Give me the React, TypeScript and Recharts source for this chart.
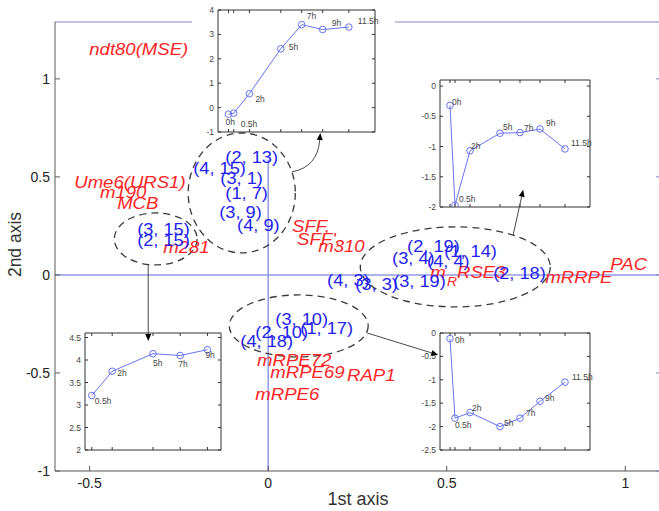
import React from 'react';
import {
  ComposedChart,
  LineChart,
  Line,
  Scatter,
  XAxis,
  YAxis,
  ReferenceLine,
  ReferenceArea,
  LabelList,
} from 'recharts';

const FONT = "'Liberation Sans', Arial, Helvetica, sans-serif";

// ---------- main biplot ----------
const mainXTicks = [-0.5, 0, 0.5, 1];
const mainYTicks = [-1, -0.5, 0, 0.5, 1];
const mainXDomain: [number, number] = [-0.597, 1.1];
const mainYDomain: [number, number] = [-1, 1.29];

const redLabels = [
  { x: -0.501, y: 1.148, label: 'ndt80(MSE)' },
  { x: -0.543, y: 0.474, label: 'Ume6(URS1)' },
  { x: -0.471, y: 0.423, label: 'm190' },
  { x: -0.423, y: 0.362, label: 'MCB' },
  { x: -0.294, y: 0.138, label: 'm281' },
  { x: 0.067, y: 0.245, label: 'SFF,' },
  { x: 0.081, y: 0.179, label: "SFF'," },
  { x: 0.14, y: 0.143, label: 'm310' },
  { x: 0.454, y: 0.015, label: 'm' },
  { x: 0.529, y: 0.015, label: 'RSE3' },
  { x: 0.776, y: -0.015, label: 'mRRPE' },
  { x: 0.958, y: 0.051, label: 'PAC' },
  { x: -0.031, y: -0.434, label: 'mRPE72' },
  { x: 0.006, y: -0.495, label: 'mRPE69' },
  { x: 0.221, y: -0.515, label: 'RAP1' },
  { x: -0.036, y: -0.612, label: 'mRPE6' },
];
const redSmallLabels = [{ x: 0.501, y: -0.036, label: 'R' }];

const blueLabels = [
  { x: -0.12, y: 0.597, label: '(2, 13)' },
  { x: -0.21, y: 0.541, label: '(4, 15)' },
  { x: -0.134, y: 0.49, label: '(3, 1)' },
  { x: -0.12, y: 0.413, label: '(1, 7)' },
  { x: -0.137, y: 0.316, label: '(3, 9)' },
  { x: -0.087, y: 0.25, label: '(4, 9)' },
  { x: -0.367, y: 0.23, label: '(3, 15)' },
  { x: -0.367, y: 0.173, label: '(2, 15)' },
  { x: 0.389, y: 0.143, label: '(2, 19)' },
  { x: 0.347, y: 0.082, label: '(3, 4)' },
  { x: 0.445, y: 0.066, label: '(4, 4)' },
  { x: 0.493, y: 0.117, label: '(1, 14)' },
  { x: 0.165, y: -0.031, label: '(4, 3)' },
  { x: 0.244, y: -0.051, label: '(3, 3)' },
  { x: 0.35, y: -0.036, label: '(3, 19)' },
  { x: 0.63, y: 0.005, label: '(2, 18)' },
  { x: 0.02, y: -0.23, label: '(3, 10)' },
  { x: -0.036, y: -0.296, label: '(2, 10)' },
  { x: 0.09, y: -0.276, label: '(1, 17)' },
  { x: -0.078, y: -0.342, label: '(4, 18)' },
];

// dashed cluster outlines (bounding boxes in data units)
const clusterBoxes = [
  { x1: -0.224, x2: 0.076, y1: 0.112, y2: 0.724 },
  { x1: -0.431, x2: -0.199, y1: 0.051, y2: 0.316 },
  { x1: 0.258, x2: 0.79, y1: -0.163, y2: 0.245 },
  { x1: -0.109, x2: 0.28, y1: -0.418, y2: -0.102 },
];

// arrows from clusters to inset plots
const straightArrows = [
  { from: { x: 0.686, y: 0.204 }, to: { x: 0.714, y: 0.434 } },
  { from: { x: -0.336, y: 0.051 }, to: { x: -0.336, y: -0.337 } },
  { from: { x: 0.277, y: -0.296 }, to: { x: 0.476, y: -0.408 } },
];
const curvedArrow = { x1: 0.067, x2: 0.146, y1: 0.526, y2: 0.724 };

// ---------- inset time courses ----------
const hoursFull = [0, 0.5, 2, 5, 7, 9, 11.5];
const namesFull = ['0h', '0.5h', '2h', '5h', '7h', '9h', '11.5h'];
const hoursShort = [0.5, 2, 5, 7, 9];
const namesShort = ['0.5h', '2h', '5h', '7h', '9h'];

const insetAValues = [-0.27, -0.23, 0.57, 2.41, 3.4, 3.2, 3.3];
const insetBValues = [-0.32, -1.97, -1.07, -0.78, -0.77, -0.71, -1.04];
const insetCValues = [3.21, 3.75, 4.14, 4.1, 4.23];
const insetDValues = [-0.12, -1.82, -1.7, -2.0, -1.82, -1.46, -1.05];

const insetAYTicks = [-1, 0, 1, 2, 3, 4];
const insetBYTicks = [-2, -1.5, -1, -0.5, 0];
const insetCYTicks = [2, 2.5, 3, 3.5, 4, 4.5];
const insetDYTicks = [-2.5, -2, -1.5, -1, -0.5, 0];

// point-label offsets (px) for each inset
const insetALabelOffsets = [[-3, 8], [7, 11], [6, 5], [8, -2], [5, -9], [9, -7], [9, -6]];
const insetBLabelOffsets = [[2, -3], [4, -6], [1, -5], [3, -6], [4, -5], [6, -6], [6, -6]];
const insetCLabelOffsets = [[3, 5], [5, 2], [0, 9], [-2, 8], [-2, 5]];
const insetDLabelOffsets = [[5, 1], [0, 7], [2, -5], [4, -4], [6, -5], [5, -3], [7, -5]];

const ZERO_LINE = '#8f98e6';
const INSET_LINE = '#6674f2';
const RED = '#ff2424';
const BLUE = '#2222f0';

const makeTextShape = (color: string, italic: boolean, size: number) => (p: any) => {
  const { cx, cy, payload } = p;
  if (cx == null || cy == null) return <g />;
  return (
    <text
      transform={`translate(${cx},${cy}) scale(1.16,1)`}
      x={0}
      y={0}
      dominantBaseline="central"
      fontFamily={FONT}
      fontStyle={italic ? 'italic' : 'normal'}
      fontSize={size}
      fill={color}
    >
      {payload.label}
    </text>
  );
};

const EllipseShape = (p: any) => {
  const { x, y, width, height } = p;
  return (
    <ellipse
      cx={x + width / 2}
      cy={y + height / 2}
      rx={Math.abs(width) / 2}
      ry={Math.abs(height) / 2}
      fill="none"
      stroke="#3a3a3a"
      strokeWidth={1.3}
      strokeDasharray="7 5"
    />
  );
};

const arrowHead = (ex: number, ey: number, ang: number) => {
  const L = 7;
  const W = 3;
  const bx = ex - L * Math.cos(ang);
  const by = ey - L * Math.sin(ang);
  const px = -Math.sin(ang) * W;
  const py = Math.cos(ang) * W;
  return { bx, by, pts: `${ex},${ey} ${bx + px},${by + py} ${bx - px},${by - py}` };
};

const ArrowShape = (p: any) => {
  const { x1, y1, x2, y2 } = p;
  if (x1 == null) return <g />;
  const ang = Math.atan2(y2 - y1, x2 - x1);
  const h = arrowHead(x2, y2, ang);
  return (
    <g>
      <line x1={x1} y1={y1} x2={h.bx} y2={h.by} stroke="#4a4a4a" strokeWidth={1} />
      <polygon points={h.pts} fill="#000" />
    </g>
  );
};

const CurvedArrowShape = (p: any) => {
  const { x, y, width, height } = p;
  const sx = x;
  const sy = y + height;
  const ex = x + width;
  const ey = y;
  const qx = x + width * 0.9;
  const qy = y + height * 0.88;
  const ang = Math.atan2(ey - qy, ex - qx);
  const h = arrowHead(ex, ey, ang);
  return (
    <g>
      <path d={`M${sx},${sy} Q${qx},${qy} ${h.bx},${h.by}`} fill="none" stroke="#4a4a4a" strokeWidth={1} />
      <polygon points={h.pts} fill="#000" />
    </g>
  );
};

const OpenDot = (p: any) => {
  const { cx, cy } = p;
  if (cx == null) return <g />;
  return <circle cx={cx} cy={cy} r={3.3} fill="none" stroke={INSET_LINE} strokeWidth={1} />;
};

type InsetProps = {
  left: number;
  top: number;
  width: number;
  height: number;
  margin: { top: number; right: number; bottom: number; left: number };
  yAxisWidth: number;
  hours: number[];
  values: number[];
  names: string[];
  offsets: number[][];
  xDomain: [number, number];
  yDomain: [number, number];
  yTicks: number[];
};

function Inset(p: InsetProps) {
  const data = p.hours.map((h, i) => ({ h, v: p.values[i], name: p.names[i] }));
  const tickStyle = { fontSize: 8.5, fill: '#444', fontFamily: FONT };
  const renderLabel = (lp: any) => {
    const { x, y, value, index } = lp;
    const off = p.offsets[index] || [4, -4];
    return (
      <text x={x + off[0]} y={y + off[1]} dominantBaseline="central" fontSize={8.5} fontFamily={FONT} fill="#444">
        {value}
      </text>
    );
  };
  const m = p.margin;
  return (
    <div
      style={{
        position: 'absolute',
        left: p.left,
        top: p.top,
        width: p.width,
        height: p.height,
        background: '#fff',
      }}
    >
      <LineChart
        width={p.width}
        height={p.height}
        margin={{ top: m.top - 1, right: m.right - 1, bottom: m.bottom - 1, left: m.left }}
        data={data}
      >
        <XAxis
          dataKey="h"
          type="number"
          domain={p.xDomain}
          ticks={p.hours}
          interval={0}
          allowDataOverflow
          height={1}
          tickSize={-3}
          tickFormatter={() => ''}
          stroke="#333"
        />
        <XAxis
          xAxisId="t"
          orientation="top"
          dataKey="h"
          type="number"
          domain={p.xDomain}
          ticks={p.hours}
          interval={0}
          allowDataOverflow
          height={1}
          tickSize={-3}
          tickFormatter={() => ''}
          stroke="#333"
        />
        <YAxis
          type="number"
          domain={p.yDomain}
          ticks={p.yTicks}
          interval={0}
          allowDataOverflow
          width={p.yAxisWidth}
          tickSize={-3}
          tickMargin={7}
          stroke="#333"
          tick={tickStyle}
        />
        <YAxis
          yAxisId="r"
          orientation="right"
          type="number"
          domain={p.yDomain}
          ticks={p.yTicks}
          interval={0}
          allowDataOverflow
          width={1}
          tickSize={-3}
          tickFormatter={() => ''}
          stroke="#333"
        />
        <Line
          dataKey="v"
          stroke={INSET_LINE}
          strokeWidth={1}
          dot={<OpenDot />}
          isAnimationActive={false}
        >
          <LabelList dataKey="name" content={renderLabel} />
        </Line>
      </LineChart>
    </div>
  );
}

export default function App() {
  const axisTick = { fill: '#222', fontSize: 14, fontFamily: FONT };
  return (
    <div
      style={{
        position: 'absolute',
        left: 0,
        top: 0,
        width: 659,
        height: 511,
        overflow: 'hidden',
        background: '#fff',
      }}
    >
      {/* base: axes, box, zero lines */}
      <div style={{ position: 'absolute', left: 0, top: 0 }}>
        <ComposedChart width={662} height={511} margin={{ top: 21, right: 0, bottom: 10, left: 0 }} data={[]}>
          <XAxis
            type="number"
            dataKey="x"
            domain={mainXDomain}
            ticks={mainXTicks}
            interval={0}
            allowDataOverflow
            height={30}
            tickSize={-5}
            tickMargin={12}
            stroke="#555"
            tick={axisTick}
            label={{
              content: (lp: any) => {
                const vb = lp.viewBox || {};
                return (
                  <text
                    x={(vb.x || 0) + (vb.width || 0) / 2}
                    y={(vb.y || 0) + 34}
                    textAnchor="middle"
                    fontFamily={FONT}
                    fontSize={18}
                    fill="#333"
                  >
                    1st axis
                  </text>
                );
              },
            }}
          />
          <XAxis
            xAxisId="t"
            orientation="top"
            type="number"
            domain={mainXDomain}
            ticks={mainXTicks}
            interval={0}
            allowDataOverflow
            height={1}
            tickSize={-5}
            tickFormatter={() => ''}
            stroke="#7d84b8"
          />
          <YAxis
            type="number"
            dataKey="y"
            domain={mainYDomain}
            ticks={mainYTicks}
            interval={0}
            allowDataOverflow
            width={55}
            tickSize={-5}
            tickMargin={10}
            stroke="#5f5a57"
            tick={axisTick}
            label={{
              content: (lp: any) => {
                const vb = lp.viewBox || {};
                const cy = (vb.y || 0) + (vb.height || 0) / 2 - 2;
                return (
                  <text
                    x={15}
                    y={cy}
                    transform={`rotate(-90, 15, ${cy})`}
                    textAnchor="middle"
                    dominantBaseline="central"
                    fontFamily={FONT}
                    fontSize={17.5}
                    fill="#333"
                  >
                    2nd axis
                  </text>
                );
              },
            }}
          />
          <YAxis
            yAxisId="r"
            orientation="right"
            type="number"
            domain={mainYDomain}
            ticks={mainYTicks}
            interval={0}
            allowDataOverflow
            width={1}
            tickSize={-5}
            tickFormatter={() => ''}
            stroke="#7d84b8"
          />
          <ReferenceLine y={0} stroke={ZERO_LINE} strokeWidth={1.5} />
          <ReferenceLine x={0} stroke={ZERO_LINE} strokeWidth={1.5} />
        </ComposedChart>
      </div>

      {/* inset time courses */}
      <Inset
        left={192}
        top={0}
        width={203}
        height={160}
        margin={{ top: 10, right: 20, bottom: 28, left: 4 }}
        yAxisWidth={22}
        hours={hoursFull}
        values={insetAValues}
        names={namesFull}
        offsets={insetALabelOffsets}
        xDomain={[-1, 14]}
        yDomain={[-1, 4]}
        yTicks={insetAYTicks}
      />
      <Inset
        left={415}
        top={72}
        width={185}
        height={143}
        margin={{ top: 8, right: 10, bottom: 8, left: 3 }}
        yAxisWidth={22}
        hours={hoursFull}
        values={insetBValues}
        names={namesFull}
        offsets={insetBLabelOffsets}
        xDomain={[-1, 14]}
        yDomain={[-2, 0.1]}
        yTicks={insetBYTicks}
      />
      <Inset
        left={62}
        top={325}
        width={166}
        height={135}
        margin={{ top: 8, right: 7, bottom: 10, left: 3 }}
        yAxisWidth={20}
        hours={hoursShort}
        values={insetCValues}
        names={namesShort}
        offsets={insetCLabelOffsets}
        xDomain={[0, 10]}
        yDomain={[2, 4.6]}
        yTicks={insetCYTicks}
      />
      <Inset
        left={415}
        top={325}
        width={185}
        height={135}
        margin={{ top: 8, right: 10, bottom: 10, left: 3 }}
        yAxisWidth={22}
        hours={hoursFull}
        values={insetDValues}
        names={namesFull}
        offsets={insetDLabelOffsets}
        xDomain={[-1, 14]}
        yDomain={[-2.5, 0]}
        yTicks={insetDYTicks}
      />

      {/* overlay: clusters, labels, arrows */}
      <div style={{ position: 'absolute', left: 0, top: 0, pointerEvents: 'none' }}>
        <ComposedChart width={661} height={511} margin={{ top: 22, right: 0, bottom: 40, left: 55 }}>
          <XAxis type="number" dataKey="x" domain={mainXDomain} allowDataOverflow hide />
          <YAxis type="number" dataKey="y" domain={mainYDomain} allowDataOverflow hide />
          {clusterBoxes.map((b, i) => (
            <ReferenceArea key={`c${i}`} x1={b.x1} x2={b.x2} y1={b.y1} y2={b.y2} shape={EllipseShape} ifOverflow="visible" />
          ))}
          <ReferenceArea
            x1={curvedArrow.x1}
            x2={curvedArrow.x2}
            y1={curvedArrow.y1}
            y2={curvedArrow.y2}
            shape={CurvedArrowShape}
            ifOverflow="visible"
          />
          {straightArrows.map((a, i) => (
            <ReferenceLine key={`a${i}`} segment={[a.from, a.to]} shape={ArrowShape} ifOverflow="visible" />
          ))}
          <Scatter data={redLabels} shape={makeTextShape(RED, true, 16)} isAnimationActive={false} />
          <Scatter data={redSmallLabels} shape={makeTextShape(RED, true, 12)} isAnimationActive={false} />
          <Scatter data={blueLabels} shape={makeTextShape(BLUE, false, 15.7)} isAnimationActive={false} />
        </ComposedChart>
      </div>
    </div>
  );
}
